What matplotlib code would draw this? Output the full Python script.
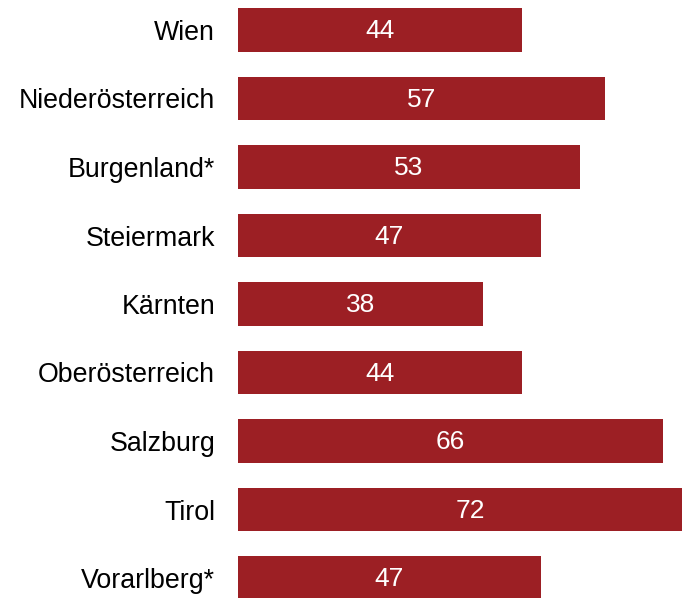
import matplotlib.pyplot as plt

regions = ['Wien', 'Niederösterreich', 'Burgenland*', 'Steiermark', 'Kärnten',
           'Oberösterreich', 'Salzburg', 'Tirol', 'Vorarlberg*']
values = [44, 57, 53, 47, 38, 44, 66, 72, 47]

plt.rcParams['font.family'] = ['Liberation Sans', 'DejaVu Sans']

fig = plt.figure(figsize=(6.82, 5.98), dpi=100)
ax = fig.add_axes([238 / 682, 0, 444 / 682, 1])

y = list(range(len(regions)))
bars = ax.barh(y, values, height=0.64, color='#9c1f24')
for b, v in zip(bars, values):
    ax.text(v / 2, b.get_y() + b.get_height() / 2 + 0.02, str(v), ha='center', va='center',
            color='white', fontsize=19)

ax.set_xlim(0, 68.9)
ax.set_ylim(8 + 20 / 68.5, -30 / 68.5)
ax.set_yticks(y)
ax.set_yticklabels(regions, fontsize=19.3)
ax.tick_params(axis='y', length=0, pad=16.5)
ax.set_xticks([])
for s in ax.spines.values():
    s.set_visible(False)

fig.savefig('out.png', dpi=100)
